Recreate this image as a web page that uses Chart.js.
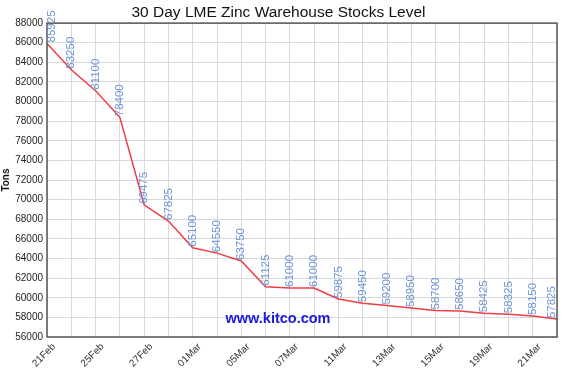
<!DOCTYPE html>
<html>
<head>
<meta charset="utf-8">
<script src="https://cdn.jsdelivr.net/npm/chart.js@4"></script>
<style>
html,body{margin:0;padding:0;background:#fff;}
#wrap{width:566px;height:370px;}
</style>
</head>
<body>
<div id="wrap"><canvas id="c" width="566" height="370"></canvas></div>
<script>
const categories = ['21Feb','22Feb','25Feb','26Feb','27Feb','28Feb','01Mar','04Mar','05Mar','06Mar','07Mar','08Mar','11Mar','12Mar','13Mar','14Mar','15Mar','18Mar','19Mar','20Mar','21Mar','22Mar'];
const stocks = [85925,83250,81100,78400,69475,67825,65100,64550,63750,61125,61000,61000,59875,59450,59200,58950,58700,58650,58425,58325,58150,57825];
const tickEvery = 2;
const yMin = 56000, yMax = 88000, yStep = 2000;
const titleText = '30 Day LME Zinc Warehouse Stocks Level';
const yTitle = 'Tons';
const watermark = 'www.kitco.com';

const extras = {
  id: 'extras',
  afterDatasetsDraw(chart) {
    const ctx = chart.ctx;
    const a = chart.chartArea;
    ctx.save();
    ctx.strokeStyle = '#555';
    ctx.lineWidth = 1.5;
    ctx.strokeRect(a.left, a.top, a.right - a.left, a.bottom - a.top);
    ctx.restore();
    const meta = chart.getDatasetMeta(0);
    ctx.save();
    ctx.font = '11.5px Arial, "Liberation Sans", sans-serif';
    ctx.fillStyle = '#6b93d6';
    ctx.textAlign = 'left';
    ctx.textBaseline = 'middle';
    meta.data.forEach((pt, i) => {
      let x = Math.min(Math.max(pt.x, a.left + 5), a.right - 5);
      ctx.save();
      ctx.translate(x, pt.y - 1);
      ctx.rotate(-Math.PI / 2);
      ctx.fillText(String(stocks[i]), 0, 0);
      ctx.restore();
    });
    ctx.restore();
    ctx.save();
    ctx.font = 'bold 14.5px Arial, "Liberation Sans", sans-serif';
    ctx.fillStyle = '#1a1adb';
    ctx.textAlign = 'center';
    ctx.textBaseline = 'middle';
    ctx.fillText(watermark, 278, 319);
    ctx.restore();
  }
};

new Chart(document.getElementById('c'), {
  type: 'line',
  data: {
    labels: categories,
    datasets: [{
      data: stocks,
      borderColor: '#f03c44',
      borderWidth: 1.5,
      pointRadius: 0,
      tension: 0,
      fill: false
    }]
  },
  options: {
    responsive: false,
    animation: false,
    layout: { padding: { left: 0, right: 9, top: 0, bottom: 0 } },
    plugins: {
      legend: { display: false },
      tooltip: { enabled: false },
      title: {
        display: true,
        text: titleText,
        color: '#111',
        font: { family: 'Arial, "Liberation Sans", sans-serif', size: 15.5, weight: 'normal' },
        padding: { top: 3, bottom: 1.5 }
      }
    },
    scales: {
      x: {
        type: 'category',
        offset: false,
        grid: { color: '#d9d9d9', lineWidth: 1, tickLength: 0, drawTicks: false },
        border: { display: false },
        ticks: {
          autoSkip: false,
          minRotation: 45,
          maxRotation: 45,
          padding: 4,
          labelOffset: 7,
          color: '#333',
          font: { family: 'Arial, "Liberation Sans", sans-serif', size: 10 },
          callback: function(v, i) { return i % tickEvery === 0 ? categories[i] : ''; }
        },
        afterFit(s) { s.height = 33; s.paddingRight = 0; s.paddingLeft = 0; }
      },
      y: {
        min: yMin,
        max: yMax,
        grid: { color: '#d9d9d9', lineWidth: 1, tickLength: 0, drawTicks: false },
        border: { display: false },
        ticks: {
          stepSize: yStep,
          padding: 4,
          color: '#222',
          font: { family: 'Arial, "Liberation Sans", sans-serif', size: 10 },
          callback: function(v) { return String(v); }
        },
        title: {
          display: true,
          text: yTitle,
          color: '#111',
          font: { family: 'Arial, "Liberation Sans", sans-serif', size: 10, weight: 'bold' },
          padding: { top: 0, bottom: 0 }
        },
        afterFit(s) { s.width = 47; }
      }
    }
  },
  plugins: [extras]
});
</script>
</body>
</html>
